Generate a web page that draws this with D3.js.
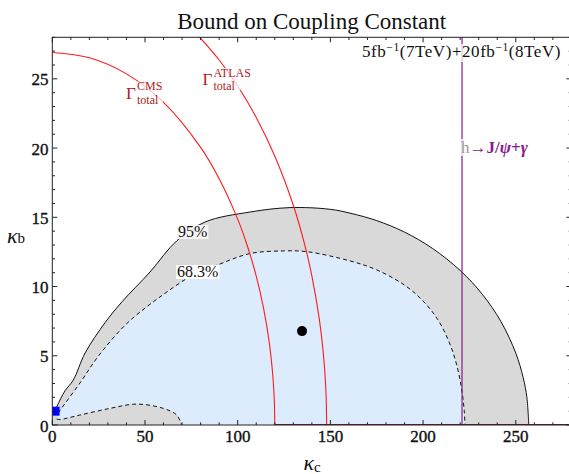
<!DOCTYPE html>
<html>
<head>
<meta charset="utf-8">
<script src="https://cdn.jsdelivr.net/npm/d3@7"></script>
<style>
  body { margin: 0; background: #fff; }
  svg { display: block; }
  text { font-family: "Liberation Serif", "Times New Roman", serif; }
</style>
</head>
<body>
<svg id="chart" width="569" height="474"></svg>
<script>
// ---- data -------------------------------------------------------------
const xTickValues = [0, 50, 100, 150, 200, 250];
const yTickValues = [0, 5, 10, 15, 20, 25];
const xMinorTicks = d3.range(0, 281, 10);
const yMinorTicks = d3.range(0, 29, 1);

// 95% CL contour (kappa_c, kappa_b)
const contour95 = [
  [0, 0.8], [2.5, 1.35], [4.5, 1.9], [7, 2.5], [11.3, 3.24], [17.7, 5.2],
  [28.5, 7.4], [37.6, 8.9], [52.7, 11.05], [67.1, 13.3], [82.4, 14.66],
  [106.6, 15.38], [128.2, 15.7], [149.8, 15.58], [160.6, 15.3], [175, 14.76],
  [190, 13.93], [205, 12.76], [220, 11.16], [232, 9.43], [242, 7.47],
  [250, 5.19], [254, 3.42], [256, 1.98], [257, 0]
];
// 68.3% CL contour, upper branch
const contour68 = [
  [3.2, 0.87], [5.1, 1.23], [14.9, 3.03], [25, 5.0], [40, 7.3], [58.1, 9.25],
  [78, 11.0], [88.7, 11.54], [106.6, 12.38], [124.6, 12.57], [137.2, 12.52],
  [160.6, 11.85], [175, 11.2], [190, 10.1], [200, 8.95], [208, 7.6],
  [214, 6.0], [218, 4.4], [220.8, 2.6], [222.2, 1.0], [222.6, 0]
];
// 68.3% CL contour, lower lobe near the origin
const lobe68 = [
  [2.4, 0.43], [4.2, 0.4], [14.9, 0.72], [31.1, 1.2], [45.5, 1.51],
  [59.9, 1.2], [67.1, 0.72], [69.8, 0]
];
// total-width bounds
const gammaCMS = [
  [0, 26.9], [20, 26.52], [40, 25.36], [60, 23.3], [80, 20.05], [90, 17.79],
  [100, 14.87], [105, 13.02], [110, 10.75], [114, 8.4], [117, 5.98],
  [119, 3.47], [119.7, 1.9], [119.9, 1.1], [120, 0]
];
const gammaATLAS = [
  [75, 28.62], [79.5, 28.0], [90, 26.36], [100, 24.48], [110, 22.21],
  [120, 19.43], [130, 15.87], [136, 13.1], [140, 10.77], [144, 7.67],
  [146, 5.44], [147.5, 2.73], [148, 0]
];
const jpsiBound = 221;          // h -> J/psi + gamma limit on kappa_c
const bestFit = [134.7, 6.78];
const smPoint = [1.5, 1.0];

// ---- layout -----------------------------------------------------------
const svg = d3.select("#chart");
const pL = 52.3, pR = 571.4, pT = 37.3, pB = 425;
const x = d3.scaleLinear().domain([0, 280]).range([pL, pR]);
const y = d3.scaleLinear().domain([0, 28]).range([pB, pT]);

svg.append("defs").append("clipPath").attr("id", "plotclip")
  .append("rect").attr("x", pL).attr("y", pT)
  .attr("width", pR - pL).attr("height", pB - pT);

const plot = svg.append("g").attr("clip-path", "url(#plotclip)");
const line = d3.line().x(d => x(d[0])).y(d => y(d[1]))
  .curve(d3.curveCatmullRom.alpha(0.5));

// 95% region (down to kappa_b = 0)
plot.append("path")
  .attr("d", line(contour95) + `L${x(0)},${y(0)}Z`)
  .attr("fill", "#d9d9d9");

// 68.3% region between upper branch and lower lobe
const lobeRev = lobe68.slice().reverse();
plot.append("path")
  .attr("d", line(contour68) + `L${x(lobeRev[0][0])},${y(0)}` +
             line(lobeRev).replace(/^M/, "L") + "Z")
  .attr("fill", "#dcecfc");

// contour lines
plot.append("path").attr("d", line(contour68))
  .attr("fill", "none").attr("stroke", "#111").attr("stroke-width", 1)
  .attr("stroke-dasharray", "4,3");
plot.append("path").attr("d", line(lobe68))
  .attr("fill", "none").attr("stroke", "#111").attr("stroke-width", 1)
  .attr("stroke-dasharray", "4,3");
plot.append("path").attr("d", line(contour95))
  .attr("fill", "none").attr("stroke", "#111").attr("stroke-width", 1);

// width bounds
[gammaCMS, gammaATLAS].forEach(c => {
  plot.append("path").attr("d", line(c))
    .attr("fill", "none").attr("stroke", "#ff1a1a").attr("stroke-width", 1.1);
});
plot.append("line")
  .attr("x1", x(120)).attr("x2", x(280)).attr("y1", y(0)).attr("y2", y(0))
  .attr("stroke", "#7d1428").attr("stroke-width", 2);

// J/psi gamma bound
plot.append("line")
  .attr("x1", x(jpsiBound)).attr("x2", x(jpsiBound))
  .attr("y1", y(0)).attr("y2", y(28))
  .attr("stroke", "#8a1a8a").attr("stroke-width", 1.2);

// best fit and SM point
plot.append("circle").attr("cx", x(bestFit[0])).attr("cy", y(bestFit[1]))
  .attr("r", 5).attr("fill", "#000");
plot.append("rect")
  .attr("x", x(smPoint[0]) - 4.5).attr("y", y(smPoint[1]) - 4.5)
  .attr("width", 9).attr("height", 9).attr("fill", "#0000ff");

// ---- contour labels ---------------------------------------------------
function bgText(g, tx, ty, str, size, color, bg) {
  const t = g.append("text").attr("x", tx).attr("y", ty)
    .attr("font-size", size).attr("fill", color).text(str);
  const b = t.node().getBBox();
  g.insert("rect", () => t.node())
    .attr("x", b.x - 1).attr("y", b.y + 2).attr("width", b.width + 2)
    .attr("height", b.height - 3).attr("fill", bg);
  return t;
}
const labels = svg.append("g");
bgText(labels, 178, 237, "95%", 16, "#111", "rgba(248,248,248,0.95)");
bgText(labels, 177, 277, "68.3%", 16, "#111", "rgba(255,255,255,0.95)");

function gammaLabel(gx, gy, sup) {
  const g = svg.append("g");
  g.append("rect").attr("x", gx - 1).attr("y", gy - 17)
    .attr("width", sup.length * 8 + 14).attr("height", 22)
    .attr("fill", "rgba(255,255,255,0.7)");
  g.append("text").attr("x", gx).attr("y", gy)
    .attr("font-size", 17).attr("fill", "#ac1e1e").text("Γ");
  g.append("text").attr("x", gx + 11).attr("y", gy - 8.5)
    .attr("font-size", 12).attr("fill", "#ac1e1e").text(sup);
  g.append("text").attr("x", gx + 11).attr("y", gy + 5)
    .attr("font-size", 12).attr("fill", "#ac1e1e").text("total");
}
gammaLabel(126, 98.5, "CMS");
gammaLabel(202.5, 85, "ATLAS");

// h -> J/psi gamma label
svg.append("rect").attr("x", 460).attr("y", 139).attr("width", 75).attr("height", 17)
  .attr("fill", "rgba(255,255,255,0.75)");
const hl = svg.append("text").attr("x", 461).attr("y", 153)
  .attr("font-size", 17).attr("font-weight", "bold").attr("fill", "#8a1a8a");
hl.append("tspan").attr("fill", "#9a9a9a").attr("font-weight", "normal").text("h");
hl.append("tspan").text("→J/");
hl.append("tspan").attr("font-style", "italic").text("ψ");
hl.append("tspan").text("+");
hl.append("tspan").attr("font-style", "italic").text("γ");

// luminosity note, spread to its column width
svg.append("rect").attr("x", 360).attr("y", 44).attr("width", 204).attr("height", 18)
  .attr("fill", "rgba(255,255,255,0.75)");
const lum = svg.append("text").attr("x", 362).attr("y", 57)
  .attr("font-size", 17).attr("fill", "#111");
lum.append("tspan").text("5fb");
lum.append("tspan").attr("font-size", 11.5).attr("dy", -6).text("−1");
lum.append("tspan").attr("dy", 6).text("(7TeV)+20fb");
lum.append("tspan").attr("font-size", 11.5).attr("dy", -6).text("−1");
lum.append("tspan").attr("dy", 6).text("(8TeV)");
{
  const w = lum.node().getComputedTextLength();
  const n = lum.text().length;
  lum.attr("letter-spacing", Math.max(0, (199 - w) / n));
}

// ---- frame and ticks --------------------------------------------------
const frame = svg.append("g").attr("stroke", "#222").attr("stroke-width", 1);
frame.append("rect").attr("x", pL).attr("y", pT)
  .attr("width", pR - pL).attr("height", pB - pT).attr("fill", "none");

xMinorTicks.forEach(v => {
  const len = v % 50 === 0 ? 5 : 2.7;
  frame.append("line").attr("x1", x(v)).attr("x2", x(v))
    .attr("y1", pB).attr("y2", pB - len);
  frame.append("line").attr("x1", x(v)).attr("x2", x(v))
    .attr("y1", pT).attr("y2", pT + len);
});
yMinorTicks.forEach(v => {
  const len = v % 5 === 0 ? 5 : 2.7;
  frame.append("line").attr("y1", y(v)).attr("y2", y(v))
    .attr("x1", pL).attr("x2", pL + len);
  frame.append("line").attr("y1", y(v)).attr("y2", y(v))
    .attr("x1", pR).attr("x2", pR - len);
});

svg.append("g").selectAll("text").data(xTickValues).join("text")
  .attr("x", d => x(d)).attr("y", 442).attr("text-anchor", "middle")
  .attr("font-size", 17).attr("fill", "#111")
  .attr("stroke", "#111").attr("stroke-width", 0.35).text(d => d);
svg.append("g").selectAll("text").data(yTickValues).join("text")
  .attr("x", 48.5).attr("y", d => y(d) + 6.5).attr("text-anchor", "end")
  .attr("font-size", 17).attr("fill", "#111")
  .attr("stroke", "#111").attr("stroke-width", 0.35).text(d => d);

// axis titles
const xl = svg.append("text").attr("x", 312).attr("y", 470)
  .attr("text-anchor", "middle").attr("fill", "#111");
xl.append("tspan").attr("font-size", 22).attr("font-style", "italic").text("κ");
xl.append("tspan").attr("font-size", 15).attr("dy", 2).text("c");

const yl = svg.append("text").attr("x", 7).attr("y", 243).attr("fill", "#111");
yl.append("tspan").attr("font-size", 22).attr("font-style", "italic").text("κ");
yl.append("tspan").attr("font-size", 15).text("b");

// title
svg.append("text").attr("x", 311.7).attr("y", 29).attr("text-anchor", "middle")
  .attr("font-size", 23).attr("fill", "#111").text("Bound on Coupling Constant");
</script>
</body>
</html>
